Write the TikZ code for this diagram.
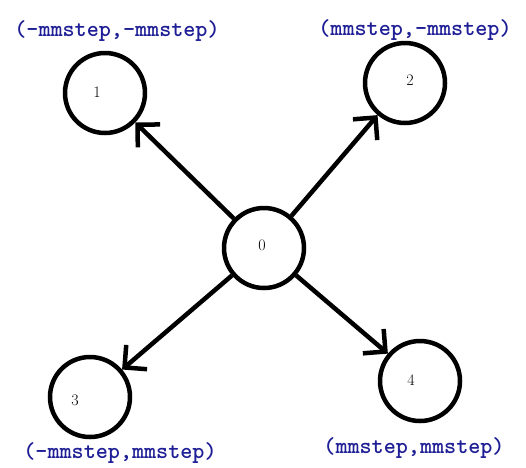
\documentclass[tikz,border=0pt]{standalone}
\usepackage{fontspec}
\usetikzlibrary{arrows.meta}
\definecolor{coordblue}{RGB}{30,30,150}
\tikzset{
  cell/.style={circle, draw=black, line width=4.5pt, minimum size=80pt, inner sep=0pt},
  numtxt/.style={font=\fontsize{16}{17}\selectfont, inner sep=0pt},
  coordtxt/.style={font=\ttfamily\bfseries\fontsize{23}{24}\selectfont, text=coordblue, inner sep=0pt},
  move/.style={line width=4.5pt, -{Straight Barb[length=16pt,width=32pt,line cap=butt]}}
}
\begin{document}
\begin{tikzpicture}[x=1pt,y=-1pt]
\useasboundingbox (0,0) rectangle (526,467);
\fill[white] (0,0) rectangle (526,467);

% the five cells
\node[cell] (n0) at (264,248) {};
\node[cell] (n1) at (105,93) {};
\node[cell] (n2) at (405,83) {};
\node[cell] (n3) at (90,397) {};
\node[cell] (n4) at (420,381) {};

% cell numbers
\node[numtxt] (t0) at (262,245) {0};
\node[numtxt] (t1) at (97,92) {1};
\node[numtxt] (t2) at (410,80) {2};
\node[numtxt] (t3) at (75,400) {3};
\node[numtxt] (t4) at (411,380) {4};

% offsets of the neighbours
\node[coordtxt] (c1) at (117,31) {(-mmstep,-mmstep)};
\node[coordtxt] (c2) at (415,30) {(mmstep,-mmstep)};
\node[coordtxt] (c3) at (120,453) {(-mmstep,mmstep)};
\node[coordtxt] (c4) at (414,448) {(mmstep,mmstep)};

% moves from the centre cell
\draw[move] (n0) -- (n1);
\draw[move] (n0) -- (n2);
\draw[move] (n0) -- (n3);
\draw[move] (n0) -- (n4);
\end{tikzpicture}
\end{document}
